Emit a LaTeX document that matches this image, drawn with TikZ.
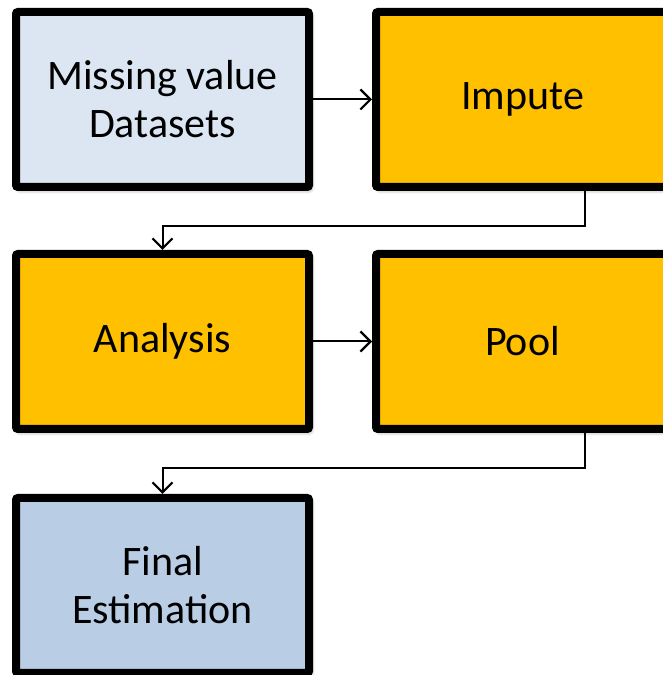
\documentclass[tikz,border=0pt]{standalone}
\usepackage{fontspec}
\setmainfont{Carlito}
\usetikzlibrary{arrows.meta,shadows.blur}
\definecolor{lightbox}{HTML}{DCE6F2}
\definecolor{orangebox}{HTML}{FFC000}
\definecolor{bluebox}{HTML}{B9CDE5}
\tikzset{
  flowbox/.style={draw=black, line width=8pt, rounded corners=2pt,
    minimum width=293pt, minimum height=175pt, inner sep=0pt,
    align=center, font=\fontsize{42}{48}\selectfont,
    blur shadow={shadow xshift=2pt, shadow yshift=-3pt, shadow blur radius=4pt, shadow opacity=45}},
  conn/.style={draw=black, line width=2pt, -{Straight Barb[length=10pt,width=20pt,line width=2.2pt]}}
}
\begin{document}
\begin{tikzpicture}[x=1pt,y=1pt]
\useasboundingbox (0,0) rectangle (662,675);
\node[flowbox, fill=lightbox] (b1) at (162.5,575.5) {Missing value\\Datasets};
\node[flowbox, fill=orangebox] (b2) at (522.5,575.5) {Impute};
\node[flowbox, fill=orangebox] (b3) at (162.5,333.5) {Analysis};
\node[flowbox, fill=orangebox] (b4) at (522.5,333.5) {Pool};
\node[flowbox, fill=bluebox] (b5) at (162.5,89.5) {Final\\Estimation};
\draw[conn] (b1.east) -- (b2.west);
\draw[conn] ([xshift=62.5pt]b2.south) -- ++(0,-35) -| (b3.north);
\draw[conn] (b3.east) -- (b4.west);
\draw[conn] ([xshift=62.5pt]b4.south) -- ++(0,-35) -| (b5.north);
\end{tikzpicture}
\end{document}
